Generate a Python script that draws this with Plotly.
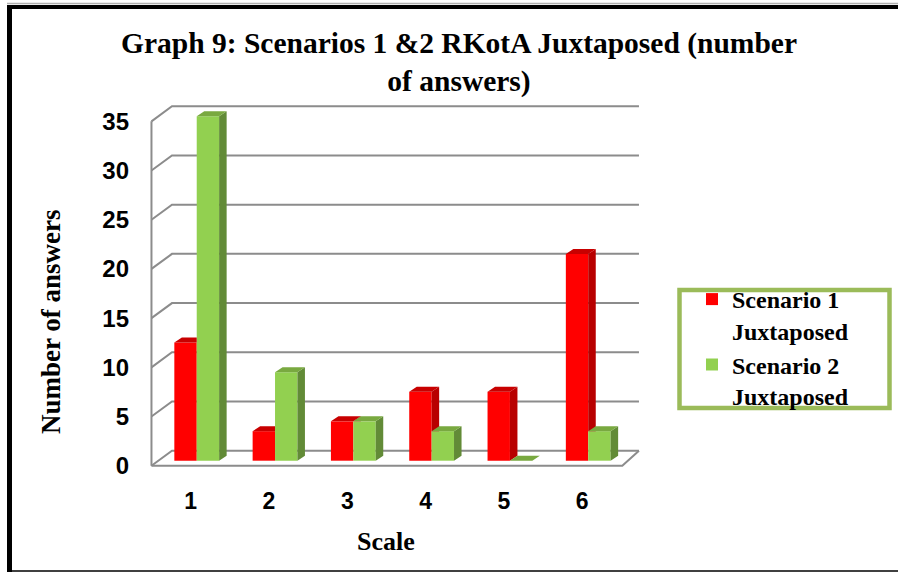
import plotly.graph_objects as go

# ---- data -------------------------------------------------------------
categories = [1, 2, 3, 4, 5, 6]
scenario1 = [12, 3, 4, 7, 7, 21]
scenario2 = [35, 9, 4, 3, 0, 3]
y_ticks = [0, 5, 10, 15, 20, 25, 30, 35]
series_names = ["Scenario 1<br>Juxtaposed", "Scenario 2<br>Juxtaposed"]

title_text = "Graph 9: Scenarios 1 &2 RKotA Juxtaposed (number<br>of answers)"
x_title = "Scale"
y_title = "Number of answers"

# ---- geometry (axis units) ------------------------------------------
W, H = 898, 572
ML, MR, MT, MB = 130, 228, 95, 87
PLOT_W = W - ML - MR
PLOT_H = H - MT - MB
X_RANGE = [0.2248, 7.1213]
Y_RANGE = [-2.469, 37.165]

BAR_W = 0.286          # width of each bar face
RED_OFF = -0.209       # offsets of the two bars from the category tick
GREEN_OFF = 0.077
DEPTH_X = 0.096        # pseudo-3D depth of a bar
DEPTH_Y = 0.51

FRONT_DY = -0.51       # front edge of the floor / walls
BACK_DY = 1.02         # back wall
FRONT_LEFT = 0.499
BACK_LEFT = 0.761
BACK_RIGHT = 6.725
FRONT_RIGHT = 6.512

RED, RED_SIDE, RED_TOP = "#ff0000", "#b80000", "#c80000"
GREEN, GREEN_SIDE, GREEN_TOP = "#92d050", "#628b37", "#79a940"
GRID = "#8c8c8c"
SERIF = "Liberation Serif"
SANS = "Liberation Sans"


def paper_x(px):
    return (px - ML) / PLOT_W


def paper_y(py):
    return (H - MB - py) / PLOT_H


def clip_half(poly, a, b, c):
    """Keep the part of a convex polygon where a*x + b*y <= c."""
    out = []
    n = len(poly)
    for i in range(n):
        p, q = poly[i], poly[(i + 1) % n]
        fp = a * p[0] + b * p[1] - c
        fq = a * q[0] + b * q[1] - c
        if fp <= 0:
            out.append(p)
        if (fp < 0 < fq) or (fq < 0 < fp):
            t = fp / (fp - fq)
            out.append((p[0] + t * (q[0] - p[0]), p[1] + t * (q[1] - p[1])))
    return out


def side_face(xr, v):
    return [(xr, 0), (xr + DEPTH_X, DEPTH_Y), (xr + DEPTH_X, v + DEPTH_Y), (xr, v)]


def top_face(xl, xr, v):
    return [(xl, v), (xr, v), (xr + DEPTH_X, v + DEPTH_Y), (xl + DEPTH_X, v + DEPTH_Y)]


def poly_xy(polys):
    xs, ys = [], []
    for p in polys:
        if len(p) < 3:
            continue
        xs += [pt[0] for pt in p] + [p[0][0], None]
        ys += [pt[1] for pt in p] + [p[0][1], None]
    return xs, ys


# faces of the red bars, trimmed where the green bar in front hides them
red_sides, red_tops, green_sides, green_tops = [], [], [], []
for c, v1, v2 in zip(categories, scenario1, scenario2):
    rl, rr = c + RED_OFF, c + RED_OFF + BAR_W
    gl, gr = c + GREEN_OFF, c + GREEN_OFF + BAR_W
    red_sides.append(clip_half(side_face(rr, v1), 0, -1, -v2))
    top = top_face(rl, rr, v1)
    red_tops.append(clip_half(top, 1, 0, rr))
    red_tops.append(clip_half(top, 0, -1, -v2))
    green_sides.append(side_face(gr, v2))
    green_tops.append(top_face(gl, gr, v2))

fig = go.Figure()

fig.add_trace(go.Bar(x=categories, y=scenario1, width=BAR_W, offset=RED_OFF,
                     marker=dict(color=RED, line=dict(width=0)),
                     name=series_names[0]))
fig.add_trace(go.Bar(x=categories, y=scenario2, width=BAR_W, offset=GREEN_OFF,
                     marker=dict(color=GREEN, line=dict(width=0)),
                     name=series_names[1]))

for polys, col in [(red_sides, RED_SIDE), (red_tops, RED_TOP),
                   (green_sides, GREEN_SIDE), (green_tops, GREEN_TOP)]:
    xs, ys = poly_xy(polys)
    fig.add_trace(go.Scatter(x=xs, y=ys, mode="lines", fill="toself",
                             fillcolor=col, line=dict(width=0, color=col),
                             showlegend=False, hoverinfo="skip"))

shapes = []
# back wall gridlines with their return to the front-left edge
for v in y_ticks:
    shapes.append(dict(
        type="path", xref="x", yref="y", layer="below",
        path=f"M{FRONT_LEFT},{v + FRONT_DY} L{BACK_LEFT},{v + BACK_DY} L{BACK_RIGHT},{v + BACK_DY}",
        line=dict(color=GRID, width=2)))
# front-left edge of the side wall
shapes.append(dict(type="line", xref="x", yref="y", layer="below",
                   x0=FRONT_LEFT, x1=FRONT_LEFT,
                   y0=y_ticks[0] + FRONT_DY, y1=y_ticks[-1] + FRONT_DY,
                   line=dict(color=GRID, width=2)))
# floor edges
shapes.append(dict(
    type="path", xref="x", yref="y", layer="below",
    path=f"M{FRONT_LEFT},{FRONT_DY} L{FRONT_RIGHT},{FRONT_DY} L{BACK_RIGHT},{BACK_DY}",
    line=dict(color=GRID, width=2)))

# legend frame
shapes.append(dict(type="rect", xref="paper", yref="paper",
                   x0=paper_x(679.5), x1=paper_x(889.5),
                   y0=paper_y(408), y1=paper_y(290),
                   line=dict(color="#9bbb59", width=4.5), fillcolor="white",
                   layer="below"))

# chart frame
shapes.append(dict(type="line", xref="paper", yref="paper",
                   x0=paper_x(7), x1=paper_x(W), y0=paper_y(3.5), y1=paper_y(3.5),
                   line=dict(color="#b0b0b0", width=1.5)))
shapes.append(dict(type="line", xref="paper", yref="paper",
                   x0=paper_x(7), x1=paper_x(W), y0=paper_y(7), y1=paper_y(7),
                   line=dict(color="black", width=4)))
shapes.append(dict(type="line", xref="paper", yref="paper",
                   x0=paper_x(9.5), x1=paper_x(9.5), y0=paper_y(5), y1=paper_y(H),
                   line=dict(color="black", width=5)))
shapes.append(dict(type="line", xref="paper", yref="paper",
                   x0=paper_x(12), x1=paper_x(W), y0=paper_y(571), y1=paper_y(571),
                   line=dict(color="#404040", width=2)))

annotations = [
    dict(text=y_title, textangle=-90, xref="paper", yref="paper",
         x=paper_x(51), y=paper_y(322), xanchor="center", yanchor="middle",
         showarrow=False, font=dict(family=SERIF, size=27, color="black", weight="bold")),
    dict(text=x_title, xref="paper", yref="paper",
         x=paper_x(386), y=paper_y(541), xanchor="center", yanchor="middle",
         showarrow=False, font=dict(family=SERIF, size=26, color="black", weight="bold")),
]

fig.update_layout(
    width=W, height=H, autosize=False,
    margin=dict(l=ML, r=MR, t=MT, b=MB, pad=0),
    paper_bgcolor="white", plot_bgcolor="rgba(0,0,0,0)",
    barmode="overlay",
    title=dict(text=title_text, xref="container", yref="container",
               x=459 / W, xanchor="center", y=1 - 53 / H, yanchor="top",
               font=dict(family=SERIF, size=29.5, color="black", weight="bold")),
    xaxis=dict(range=X_RANGE, tickvals=categories, ticktext=[str(c) for c in categories],
               showgrid=False, zeroline=False, showline=False, ticks="",
               tickfont=dict(family=SANS, size=23, color="black", weight="bold")),
    yaxis=dict(range=Y_RANGE, tickvals=[v + FRONT_DY for v in y_ticks],
               ticktext=[str(v) for v in y_ticks],
               showgrid=False, zeroline=False, showline=False, ticks="",
               tickfont=dict(family=SANS, size=24, color="black", weight="bold")),
    legend=dict(x=paper_x(692), y=paper_y(277), xanchor="left", yanchor="top",
                bgcolor="rgba(0,0,0,0)", borderwidth=0, valign="top",
                font=dict(family=SERIF, size=24, color="black", weight="bold"),
                tracegroupgap=0),
    shapes=shapes,
    annotations=annotations,
    showlegend=True,
)

fig.write_html("out.html")
